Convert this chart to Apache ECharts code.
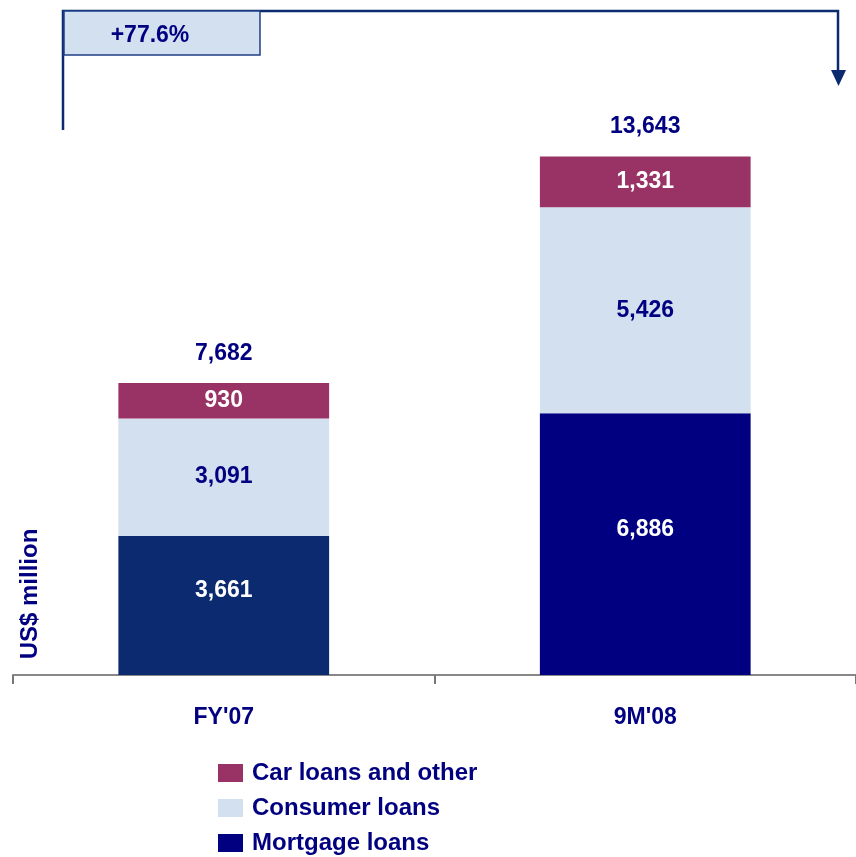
<!DOCTYPE html>
<html>
<head>
<meta charset="utf-8">
<script src="https://cdn.jsdelivr.net/npm/echarts@6/dist/echarts.min.js"></script>
<style>
html, body { margin: 0; padding: 0; background: #fff; }
#idChart { width: 856px; height: 857px; }
</style>
</head>
<body>
<div id="idChart"></div>
<script>
var categories = ["FY'07", "9M'08"];
var mortgage = [3661, 6886];
var consumer = [3091, 5426];
var carOther = [930, 1331];
var growthLabel = '+77.6%';

var navy = '#000080';
var font = '"Liberation Sans", Arial, sans-serif';
var mortgageColors = ['#0b2a70', '#000080'];

var totals = [];
for (var i = 0; i < categories.length; i++) {
    totals.push(mortgage[i] + consumer[i] + carOther[i]);
}

function fmt(v) {
    return String(v).replace(/\B(?=(\d{3})+(?!\d))/g, ',');
}

var mortgageData = mortgage.map(function (v, i) {
    return { value: v, itemStyle: { color: mortgageColors[i] } };
});

var myChart = echarts.init(document.getElementById('idChart'));

var Options = {
    animation: false,
    grid: { left: 13, right: -2, top: 105, bottom: 182, containLabel: false },
    legend: {
        orient: 'vertical',
        left: 218,
        top: 761,
        padding: 0,
        icon: 'rect',
        itemWidth: 25,
        itemHeight: 18,
        itemGap: 11,
        data: ['Car loans and other', 'Consumer loans', 'Mortgage loans'],
        textStyle: { color: navy, fontSize: 24, fontWeight: 'bold', fontFamily: font, padding: [0, 0, 0, 4] }
    },
    xAxis: {
        type: 'category',
        data: categories,
        axisLine: { lineStyle: { color: '#888', width: 2 } },
        axisTick: { show: true, length: 9, lineStyle: { color: '#777', width: 2 } },
        axisLabel: { color: navy, fontSize: 23, fontWeight: 'bold', fontFamily: font, margin: 31 }
    },
    yAxis: {
        type: 'value',
        min: 0,
        max: 15000,
        show: false,
        splitLine: { show: false }
    },
    series: [
        {
            name: 'Mortgage loans',
            type: 'bar',
            stack: 'loans',
            barWidth: '50%',
            itemStyle: { color: navy },
            label: { show: true, position: 'inside', offset: [0, -15], color: '#fff', fontSize: 23, fontWeight: 'bold', fontFamily: font, formatter: function (p) { return fmt(p.value); } },
            data: mortgageData
        },
        {
            name: 'Consumer loans',
            type: 'bar',
            stack: 'loans',
            itemStyle: { color: '#d3e0f0' },
            label: { show: true, position: 'inside', color: navy, fontSize: 23, fontWeight: 'bold', fontFamily: font, formatter: function (p) { return fmt(p.value); } },
            data: consumer
        },
        {
            name: 'Car loans and other',
            type: 'bar',
            stack: 'loans',
            itemStyle: { color: '#993366' },
            label: { show: true, position: 'inside', color: '#fff', fontSize: 23, fontWeight: 'bold', fontFamily: font, formatter: function (p) { return fmt(p.value); } },
            data: carOther
        },
        {
            name: 'Total',
            type: 'scatter',
            symbol: 'circle',
            symbolSize: 2,
            itemStyle: { color: 'rgba(255,255,255,0)', opacity: 1 },
            silent: true,
            label: { show: true, position: 'top', distance: 17, color: navy, fontSize: 23, fontWeight: 'bold', fontFamily: font, formatter: function (p) { return fmt(p.value); } },
            data: totals
        }
    ],
    graphic: [
        {
            type: 'polyline',
            shape: { points: [[63, 130], [63, 11], [838, 11], [838, 72]] },
            style: { stroke: '#0b2a70', lineWidth: 2.5, fill: null }
        },
        {
            type: 'polygon',
            shape: { points: [[831, 70], [846, 70], [838.5, 86]] },
            style: { fill: '#0b2a70' }
        },
        {
            type: 'rect',
            shape: { x: 64, y: 11, width: 196, height: 44 },
            style: { fill: '#d3e0f0', stroke: '#1f3f85', lineWidth: 1.5 }
        },
        {
            type: 'text',
            x: 150,
            y: 36,
            style: { text: growthLabel, fill: navy, font: 'bold 23px ' + font, align: 'center', verticalAlign: 'middle' }
        },
        {
            type: 'text',
            x: 30,
            y: 594,
            rotation: Math.PI / 2,
            style: { text: 'US$ million', fill: navy, font: 'bold 24px ' + font, align: 'center', verticalAlign: 'middle' }
        }
    ]
};

myChart.setOption(Options);
</script>
</body>
</html>
